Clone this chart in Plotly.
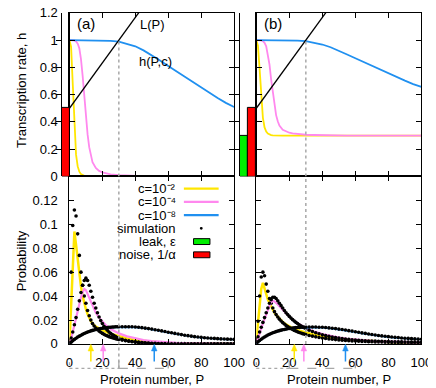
import plotly.graph_objects as go

W, H = 436, 388

# ---- top panels: transcription rate h(P, c) ----
P_H = [0, 1, 2, 3, 4, 5, 6, 7, 8, 9, 10, 11, 12, 13, 14, 16, 18, 20, 22, 25,
       30, 35, 40, 45, 50, 55, 60, 65, 70, 75, 80, 85, 90, 95, 100]

H_A_C2 = [1.0, 0.95, 0.68, 0.35, 0.16, 0.075, 0.035, 0.017, 0.009, 0.005, 0.003, 0.002, 0.001, 0.001, 0.0,
          0, 0, 0, 0, 0, 0, 0, 0, 0, 0, 0, 0, 0, 0, 0, 0, 0, 0, 0, 0]
H_A_C4 = [1.0, 1.0, 1.0, 0.998, 0.99, 0.975, 0.94, 0.86, 0.74, 0.59, 0.44, 0.31, 0.215, 0.15, 0.105,
          0.062, 0.041, 0.03, 0.023, 0.016, 0.009, 0.005, 0.003, 0.002, 0.001,
          0, 0, 0, 0, 0, 0, 0, 0, 0, 0]
H_A_C8 = [1.0, 1.0, 1.0, 1.0, 1.0, 1.0, 1.0, 1.0, 1.0, 1.0, 1.0, 1.0, 1.0, 1.0, 1.0,
          1.0, 0.999, 0.998, 0.997, 0.995, 0.99, 0.975, 0.955, 0.925, 0.89,
          0.85, 0.81, 0.77, 0.73, 0.69, 0.65, 0.61, 0.575, 0.54, 0.51]

H_B_C2 = [1.0, 0.96, 0.79, 0.57, 0.43, 0.36, 0.33, 0.315, 0.307, 0.304, 0.302, 0.301, 0.3, 0.3, 0.3,
          0.3, 0.3, 0.3, 0.3, 0.3, 0.3, 0.3, 0.3, 0.3, 0.3, 0.3, 0.3, 0.3, 0.3, 0.3, 0.3, 0.3, 0.3, 0.3, 0.3]
H_B_C4 = [1.0, 1.0, 1.0, 0.998, 0.993, 0.98, 0.955, 0.9, 0.82, 0.71, 0.61, 0.52, 0.45, 0.405, 0.373,
          0.343, 0.329, 0.321, 0.316, 0.311, 0.306, 0.304, 0.302, 0.301, 0.3,
          0.3, 0.3, 0.3, 0.3, 0.3, 0.3, 0.3, 0.3, 0.3, 0.3]
H_B_C8 = [1.0, 1.0, 1.0, 1.0, 1.0, 1.0, 1.0, 1.0, 1.0, 1.0, 1.0, 1.0, 1.0, 1.0, 1.0,
          1.0, 0.999, 0.999, 0.998, 0.996, 0.993, 0.982, 0.968, 0.948, 0.923,
          0.895, 0.867, 0.839, 0.811, 0.783, 0.755, 0.727, 0.703, 0.678, 0.657]

# L(P) line
L_P = [0, 60]
L_VAL = [0.5, 1.5]

LEAK_B = 0.3
NOISE = 0.5
P_MARK = 30

# ---- bottom panels: probability distributions ----
P_TH = [0, 1, 2, 3, 4, 5, 6, 7, 8, 9, 10, 11, 12, 13, 14, 15, 16, 18, 20, 22, 25,
        30, 35, 40, 45, 50, 55, 60, 65, 70, 75, 80, 85, 90, 95, 100]

TH_A_C2 = [0.0, 0.031, 0.063, 0.094, 0.083, 0.070, 0.058, 0.048, 0.040, 0.034, 0.029, 0.025, 0.0215, 0.019,
           0.017, 0.0155, 0.0145, 0.013, 0.0115, 0.0102, 0.0085, 0.0062, 0.0045, 0.0032, 0.0023, 0.0016,
           0.0011, 0.0008, 0.0005, 0.0004, 0.0003, 0.0002, 0.0001, 0.0001, 0.0001, 0.0]
TH_A_C4 = [0.0, 0.004, 0.010, 0.016, 0.022, 0.028, 0.034, 0.039, 0.043, 0.046, 0.045, 0.042, 0.039, 0.035,
           0.032, 0.029, 0.026, 0.022, 0.0185, 0.0158, 0.0125, 0.0088, 0.0063, 0.0045, 0.0033, 0.0024,
           0.0017, 0.0012, 0.0009, 0.0006, 0.0004, 0.0003, 0.0002, 0.0002, 0.0001, 0.0001]
TH_A_C8 = [0.0, 0.0012, 0.0024, 0.0035, 0.0045, 0.0054, 0.0062, 0.007, 0.0077, 0.0084, 0.009, 0.0096, 0.0101,
           0.0106, 0.011, 0.0114, 0.0117, 0.0123, 0.0128, 0.0132, 0.0136, 0.014, 0.0141, 0.0138, 0.0131,
           0.0121, 0.0108, 0.0094, 0.0081, 0.0069, 0.0059, 0.0051, 0.0045, 0.0041, 0.0038, 0.0036]

TH_B_C2 = [0.003, 0.017, 0.032, 0.046, 0.051, 0.046, 0.041, 0.037, 0.034, 0.031, 0.0285, 0.0262, 0.0242,
           0.0225, 0.021, 0.0196, 0.0184, 0.0163, 0.0146, 0.0132, 0.0115, 0.0093, 0.0077, 0.0064, 0.0054,
           0.0045, 0.0038, 0.0032, 0.0027, 0.0023, 0.002, 0.0017, 0.0015, 0.0013, 0.0012, 0.0011]
TH_B_C4 = [0.0, 0.005, 0.009, 0.013, 0.017, 0.021, 0.025, 0.029, 0.032, 0.035, 0.036, 0.0355, 0.0345, 0.033,
           0.0315, 0.030, 0.0285, 0.0255, 0.0228, 0.0204, 0.0173, 0.0133, 0.0104, 0.0082, 0.0066, 0.0053,
           0.0043, 0.0036, 0.003, 0.0025, 0.0022, 0.0019, 0.0017, 0.0015, 0.0014, 0.0013]
TH_B_C8 = [0.0, 0.0013, 0.0025, 0.0036, 0.0046, 0.0055, 0.0063, 0.0071, 0.0078, 0.0084, 0.009, 0.0095, 0.01,
           0.0104, 0.0108, 0.0112, 0.0115, 0.0121, 0.0126, 0.013, 0.0134, 0.0137, 0.0138, 0.0135, 0.0129,
           0.012, 0.0109, 0.0097, 0.0085, 0.0074, 0.0064, 0.0056, 0.0049, 0.0044, 0.004, 0.0037]

# simulation points
P_SIM = list(range(0, 31)) + list(range(32, 101, 2))

SIM_A_C2 = [0.003, 0.060, 0.099, 0.112, 0.107, 0.092, 0.074, 0.060, 0.049, 0.040, 0.034, 0.028, 0.0235, 0.0199,
            0.0170, 0.0150, 0.0133, 0.0119, 0.0107, 0.0097, 0.0088, 0.0080, 0.0073, 0.0067, 0.0061, 0.0056,
            0.0051, 0.0047, 0.0043, 0.0040, 0.0037,
            0.0032, 0.0027, 0.0023, 0.0020, 0.0017, 0.0015, 0.0013, 0.0011, 0.0010, 0.0009, 0.0008, 0.0007,
            0.0006, 0.0005, 0.0005, 0.0004, 0.0004, 0.0003, 0.0003, 0.0003, 0.0002, 0.0002, 0.0002, 0.0002,
            0.0002, 0.0001, 0.0001, 0.0001, 0.0001, 0.0001, 0.0001, 0.0001, 0.0001, 0.0001, 0.0001]
SIM_A_C4 = [0.001, 0.005, 0.010, 0.016, 0.022, 0.029, 0.036, 0.043, 0.049, 0.053, 0.055, 0.053, 0.049, 0.044,
            0.039, 0.034, 0.030, 0.026, 0.0225, 0.0195, 0.0170, 0.0148, 0.0130, 0.0114, 0.0100, 0.0088,
            0.0078, 0.0069, 0.0061, 0.0054, 0.0048,
            0.0038, 0.0030, 0.0024, 0.0019, 0.0015, 0.0012, 0.0010, 0.0008, 0.0007, 0.0006, 0.0005, 0.0004,
            0.0003, 0.0003, 0.0002, 0.0002, 0.0002, 0.0001, 0.0001, 0.0001, 0.0001, 0.0001, 0.0001, 0.0001,
            0.0001, 0.0, 0.0, 0.0, 0.0, 0.0, 0.0, 0.0, 0.0, 0.0, 0.0]
SIM_A_C8 = [0.0003, 0.0015, 0.0027, 0.0038, 0.0048, 0.0057, 0.0065, 0.0073, 0.0080, 0.0087, 0.0093, 0.0099,
            0.0104, 0.0109, 0.0113, 0.0117, 0.0120, 0.0123, 0.0126, 0.0129, 0.0131, 0.0133, 0.0135, 0.0137,
            0.0139, 0.0140, 0.0141, 0.0142, 0.0143, 0.0143, 0.0144,
            0.0144, 0.0144, 0.0144, 0.0143, 0.0141, 0.0139, 0.0136, 0.0132, 0.0128, 0.0124, 0.0119, 0.0114,
            0.0109, 0.0104, 0.0098, 0.0093, 0.0088, 0.0083, 0.0078, 0.0073, 0.0069, 0.0065, 0.0061, 0.0058,
            0.0055, 0.0052, 0.0050, 0.0048, 0.0046, 0.0044, 0.0042, 0.0041, 0.0040, 0.0039, 0.0038]

SIM_B_C2 = [0.004, 0.019, 0.040, 0.056, 0.060, 0.057, 0.050, 0.044, 0.038, 0.034, 0.030, 0.027, 0.0245, 0.0225,
            0.0207, 0.0192, 0.0178, 0.0166, 0.0155, 0.0145, 0.0136, 0.0128, 0.0120, 0.0113, 0.0107, 0.0101,
            0.0096, 0.0091, 0.0086, 0.0082, 0.0078,
            0.0071, 0.0065, 0.0059, 0.0054, 0.0050, 0.0046, 0.0042, 0.0039, 0.0036, 0.0033, 0.0031, 0.0029,
            0.0027, 0.0025, 0.0024, 0.0022, 0.0021, 0.0020, 0.0019, 0.0018, 0.0017, 0.0016, 0.0016, 0.0015,
            0.0015, 0.0014, 0.0014, 0.0013, 0.0013, 0.0013, 0.0012, 0.0012, 0.0012, 0.0011, 0.0011]
SIM_B_C4 = [0.002, 0.006, 0.010, 0.014, 0.018, 0.022, 0.026, 0.030, 0.034, 0.037, 0.039, 0.039, 0.038, 0.036,
            0.034, 0.032, 0.030, 0.028, 0.026, 0.0245, 0.0230, 0.0216, 0.0203, 0.0191, 0.0180, 0.0170,
            0.0160, 0.0151, 0.0143, 0.0135, 0.0128,
            0.0115, 0.0104, 0.0094, 0.0085, 0.0077, 0.0070, 0.0064, 0.0058, 0.0053, 0.0049, 0.0045, 0.0041,
            0.0038, 0.0035, 0.0033, 0.0031, 0.0029, 0.0027, 0.0025, 0.0024, 0.0023, 0.0022, 0.0021, 0.0020,
            0.0019, 0.0018, 0.0018, 0.0017, 0.0017, 0.0016, 0.0016, 0.0015, 0.0015, 0.0014, 0.0014]
SIM_B_C8 = [0.0003, 0.0016, 0.0028, 0.0039, 0.0049, 0.0058, 0.0066, 0.0074, 0.0081, 0.0087, 0.0093, 0.0098,
            0.0103, 0.0107, 0.0111, 0.0115, 0.0118, 0.0121, 0.0124, 0.0127, 0.0129, 0.0131, 0.0133, 0.0135,
            0.0136, 0.0137, 0.0138, 0.0139, 0.0140, 0.0140, 0.0141,
            0.0141, 0.0141, 0.0141, 0.0140, 0.0139, 0.0137, 0.0134, 0.0131, 0.0128, 0.0124, 0.0120, 0.0116,
            0.0111, 0.0107, 0.0102, 0.0097, 0.0092, 0.0088, 0.0083, 0.0079, 0.0075, 0.0071, 0.0067, 0.0064,
            0.0061, 0.0058, 0.0055, 0.0053, 0.0050, 0.0048, 0.0046, 0.0044, 0.0042, 0.0040, 0.0039]

# mean protein numbers (arrows)
MEAN_A = [13, 20.5, 51.5]
MEAN_B = [23, 28.8, 54]

# ranges marked below the axis: (dotted end, dashed end)
RANGE_A = (30, 60)
RANGE_B = (20, 60)

X_TICKS = [0, 20, 40, 60, 80, 100]
H_TICKS = [0, 0.2, 0.4, 0.6, 0.8, 1, 1.2]
PR_TICKS = [0, 0.02, 0.04, 0.06, 0.08, 0.1, 0.12]

LABELS = ["c=10\u207b\u00b2", "c=10\u207b\u2074", "c=10\u207b\u2078"]
COLORS = ["#ffe600", "#ff88ee", "#2090f0"]
FONT = "Liberation Sans, Arial, sans-serif"

fig = go.Figure()

top = [("x", "y", [H_A_C2, H_A_C4, H_A_C8]), ("x2", "y2", [H_B_C2, H_B_C4, H_B_C8])]
for xa, ya, curves in top:
    for vals, col in zip(curves, COLORS):
        fig.add_trace(go.Scatter(x=P_H, y=vals, mode="lines", line=dict(color=col, width=1.8),
                                 xaxis=xa, yaxis=ya, showlegend=False))
    fig.add_trace(go.Scatter(x=L_P, y=L_VAL, mode="lines", line=dict(color="black", width=1.3),
                             xaxis=xa, yaxis=ya, showlegend=False))

bottom = [("x3", "y3", [TH_A_C2, TH_A_C4, TH_A_C8], [SIM_A_C2, SIM_A_C4, SIM_A_C8]),
          ("x4", "y4", [TH_B_C2, TH_B_C4, TH_B_C8], [SIM_B_C2, SIM_B_C4, SIM_B_C8])]
for xa, ya, ths, sims in bottom:
    for th, sim, col, w in zip(ths, sims, COLORS, [2.5, 2.2, 1.5]):
        fig.add_trace(go.Scatter(x=P_TH, y=th, mode="lines", line=dict(color=col, width=w),
                                 xaxis=xa, yaxis=ya, showlegend=False))
        fig.add_trace(go.Scatter(x=P_SIM, y=sim, mode="markers", marker=dict(color="black", size=3.6),
                                 xaxis=xa, yaxis=ya, showlegend=False))

# leak / noise bars left of the h axes
fig.add_trace(go.Bar(x=[0], y=[NOISE], width=[1], marker=dict(color="#ff0000", line=dict(color="black", width=1)),
                     xaxis="x5", yaxis="y", showlegend=False))
fig.add_trace(go.Bar(x=[0, 1], y=[LEAK_B, NOISE], width=[1, 1],
                     marker=dict(color=["#00ee00", "#ff0000"], line=dict(color="black", width=1)),
                     xaxis="x6", yaxis="y2", showlegend=False))

XA = [59.5 / W, 230 / W]
XB = [253 / W, 424 / W]
YT = [1 - 172 / H, 1 - 5 / H]
YB = [1 - 343 / H, 1 - 172 / H]

ax_common = dict(showline=True, linecolor="black", linewidth=1, mirror="allticks", ticks="inside",
                 ticklen=5, tickcolor="black", showgrid=False, zeroline=False,
                 tickfont=dict(size=13, color="black", family=FONT))
xticks = dict(range=[0, 100], tickvals=X_TICKS)

fig.update_layout(
    width=W, height=H, margin=dict(l=0, r=0, t=0, b=0),
    paper_bgcolor="white", plot_bgcolor="white", bargap=0,
    font=dict(family=FONT, size=13, color="black"),
    xaxis=dict(domain=XA, anchor="y", showticklabels=False, **xticks, **ax_common),
    yaxis=dict(domain=YT, anchor="x", range=[0, 1.2], tickvals=H_TICKS, ticktext=[str(v) for v in H_TICKS],
               ticklabelstandoff=8, automargin=False, ticklabeloverflow="allow", **ax_common),
    xaxis2=dict(domain=XB, anchor="y2", showticklabels=False, **xticks, **ax_common),
    yaxis2=dict(domain=YT, anchor="x2", range=[0, 1.2], tickvals=H_TICKS, showticklabels=False, **ax_common),
    xaxis3=dict(domain=XA, anchor="y3", ticklabelstandoff=6, **xticks, **ax_common),
    yaxis3=dict(domain=YB, anchor="x3", range=[0, 0.14], tickvals=PR_TICKS,
                ticktext=[str(v) for v in PR_TICKS], ticklabelstandoff=8, **ax_common),
    xaxis4=dict(domain=XB, anchor="y4", ticklabelstandoff=6, **xticks, **ax_common),
    yaxis4=dict(domain=YB, anchor="x4", range=[0, 0.14], tickvals=PR_TICKS,
                showticklabels=False, **ax_common),
    xaxis5=dict(domain=[51.7 / W, 59.5 / W], anchor="y", range=[-0.5, 0.5], visible=False),
    xaxis6=dict(domain=[236 / W, 253 / W], anchor="y2", range=[-0.5, 1.5], visible=False),
)

shapes = []
gray = "#a8a8a8"
# dotted line at P = 30 through both rows
for xt, yt in [("x", "y"), ("x2", "y2")]:
    shapes.append(dict(type="line", xref=xt, yref=yt, x0=P_MARK, x1=P_MARK, y0=0, y1=1.0,
                       line=dict(color=gray, width=1.5, dash="dot")))
shapes.append(dict(type="line", xref="x3 domain", yref="y3 domain", x0=P_MARK / 100, x1=P_MARK / 100,
                   y0=-0.146, y1=1, line=dict(color=gray, width=1.5, dash="dot")))
shapes.append(dict(type="line", xref="x4 domain", yref="y4 domain", x0=P_MARK / 100, x1=P_MARK / 100,
                   y0=0, y1=1, line=dict(color=gray, width=1.5, dash="dot")))

# range brackets under the P axes
for xr, yr, (p1, p2) in [("x3 domain", "y3 domain", RANGE_A), ("x4 domain", "y4 domain", RANGE_B)]:
    shapes.append(dict(type="line", xref=xr, yref=yr, x0=0, x1=p1 / 100, y0=-0.146, y1=-0.146,
                       line=dict(color=gray, width=1.3, dash="dot")))
    shapes.append(dict(type="line", xref=xr, yref=yr, x0=p1 / 100, x1=p2 / 100, y0=-0.146, y1=-0.146,
                       line=dict(color=gray, width=1.3, dash="dash")))
    shapes.append(dict(type="line", xref=xr, yref=yr, x0=0, x1=0, y0=-0.11, y1=-0.146,
                       line=dict(color=gray, width=1.3, dash="dot")))
    shapes.append(dict(type="line", xref=xr, yref=yr, x0=p1 / 100, x1=p1 / 100, y0=-0.1, y1=-0.146,
                       line=dict(color=gray, width=1.3)))
    shapes.append(dict(type="line", xref=xr, yref=yr, x0=p2 / 100, x1=p2 / 100, y0=-0.1, y1=-0.146,
                       line=dict(color=gray, width=1.3, dash="dash")))

# mean arrows under the P axes (shaft + head)
for means, xr, yr in [(MEAN_A, "x3 domain", "y3 domain"), (MEAN_B, "x4 domain", "y4 domain")]:
    for m, col in zip(means, COLORS):
        xm = m / 100
        shapes.append(dict(type="line", xref=xr, yref=yr, x0=xm, x1=xm, y0=-0.03, y1=-0.105,
                           line=dict(color=col, width=1.5)))
        shapes.append(dict(type="path", xref=xr, yref=yr, fillcolor=col, line=dict(color=col, width=0.5),
                           path=f"M {xm - 0.017} -0.042 L {xm} -0.002 L {xm + 0.017} -0.042 Z"))

# hand-made key (text on the left, sample on the right)
key_y = [184.5, 198, 211.5, 225, 238.5, 252]
key_txt = LABELS + ["simulation", "leak, \u03b5", "noise, 1/\u03b1"]
annotations = []
for t, yy in zip(key_txt, key_y):
    annotations.append(dict(x=172 / W, y=1 - yy / H, xref="paper", yref="paper", text=t, showarrow=False,
                            xanchor="right", yanchor="middle", font=dict(size=13)))
for col, yy in zip(COLORS, key_y[:3]):
    shapes.append(dict(type="line", xref="paper", yref="paper", x0=178 / W, x1=214 / W,
                       y0=1 - yy / H, y1=1 - yy / H, line=dict(color=col, width=2.2)))
shapes.append(dict(type="circle", xref="paper", yref="paper", x0=194.5 / W, x1=197.5 / W,
                   y0=1 - (key_y[3] + 1.5) / H, y1=1 - (key_y[3] - 1.5) / H, fillcolor="black",
                   line=dict(width=0)))
for col, yy in zip(["#00ee00", "#ff0000"], key_y[4:]):
    shapes.append(dict(type="rect", xref="paper", yref="paper", x0=188 / W, x1=205 / W,
                       y0=1 - (yy + 3) / H, y1=1 - (yy - 3) / H, fillcolor=col,
                       line=dict(color="black", width=1)))

# panel and curve labels
annotations += [
    dict(x=3.5, y=1.12, xref="x", yref="y", text="(a)", showarrow=False, xanchor="left",
         yanchor="middle", font=dict(size=15)),
    dict(x=3.5, y=1.12, xref="x2", yref="y2", text="(b)", showarrow=False, xanchor="left",
         yanchor="middle", font=dict(size=15)),
    dict(x=41.5, y=1.115, xref="x", yref="y", text="L(P)", showarrow=False, xanchor="left",
         yanchor="middle", font=dict(size=13)),
    dict(x=41, y=0.84, xref="x", yref="y", text="h(P,c)", showarrow=False, xanchor="left",
         yanchor="middle", font=dict(size=13)),
    dict(x=10 / W, y=1 - 84 / H, xref="paper", yref="paper", text="Transcription rate, h",
         showarrow=False, textangle=-90, xanchor="center", yanchor="middle", font=dict(size=13)),
    dict(x=10 / W, y=1 - 258 / H, xref="paper", yref="paper", text="Probability",
         showarrow=False, textangle=-90, xanchor="center", yanchor="middle", font=dict(size=13)),
    dict(x=145 / W, y=1 - 379 / H, xref="paper", yref="paper", text="Protein number, P",
         showarrow=False, xanchor="center", yanchor="middle", font=dict(size=13)),
    dict(x=339 / W, y=1 - 379 / H, xref="paper", yref="paper", text="Protein number, P",
         showarrow=False, xanchor="center", yanchor="middle", font=dict(size=13)),
]

fig.update_layout(shapes=shapes, annotations=annotations)
fig.write_html("out.html")
